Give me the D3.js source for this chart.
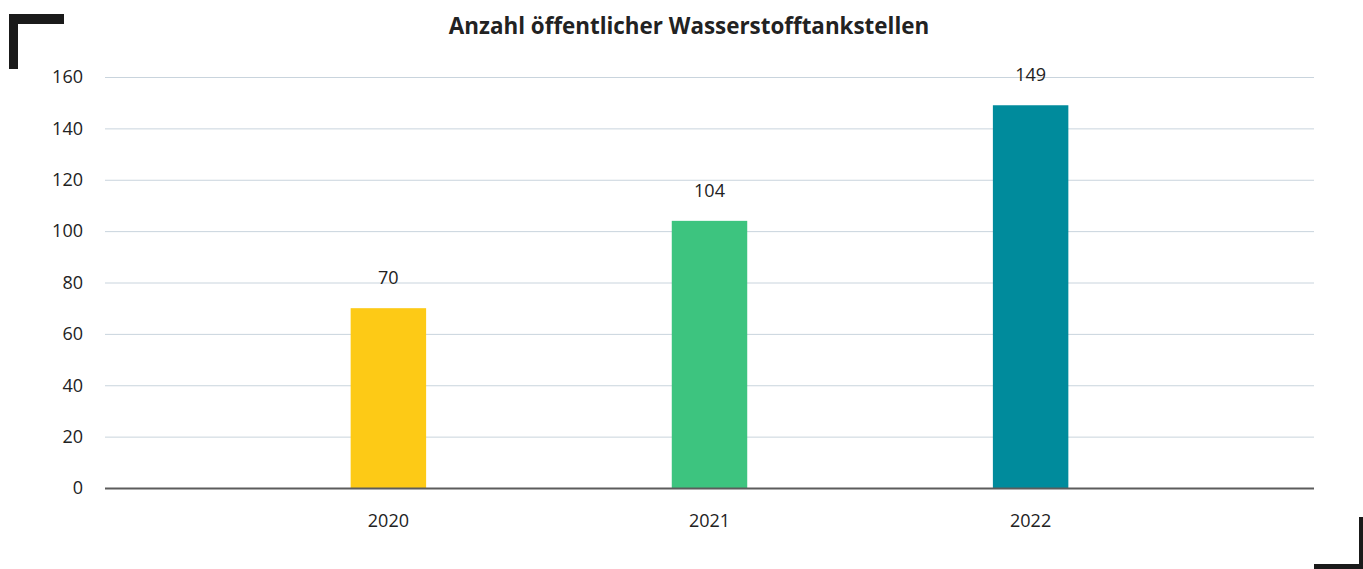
<!DOCTYPE html>
<html>
<head>
<meta charset="utf-8">
<script src="https://cdn.jsdelivr.net/npm/d3@7"></script>
<style>
  body { margin: 0; background: #fff; }
  svg { display: block; font-family: 'Open Sans', sans-serif; }
  .grid line { stroke: #c9d4dd; stroke-width: 1; }
  .grid .domain { display: none; }
  .axis text { fill: #222; font-size: 18px; }
  .axis .tick line { display: none; }
  .axis .domain { display: none; }
  .baseline { stroke: #5c5c5c; stroke-width: 2; }
  .value-label { fill: #222; font-size: 18px; text-anchor: middle; }
  .title { fill: #222; font-size: 22.4px; font-weight: 700; text-anchor: middle; }
  .corner { fill: #1a1a1a; }
</style>
</head>
<body>
<div id="chart"></div>
<script>
const years = ['2020', '2021', '2022'];
const stations = [70, 104, 149];
const barColors = ['#fdca16', '#3dc47f', '#008b9c'];
const yTicks = [0, 20, 40, 60, 80, 100, 120, 140, 160];

const W = 1363;
const H = 569;
const margin = { top: 77, left: 105, bottom: 81, right: 49 };
const width = W - margin.left - margin.right;
const height = H - margin.top - margin.bottom;

const svg = d3.select('#chart').append('svg')
    .attr('width', W)
    .attr('height', H);

// corner brackets
svg.append('rect').attr('class', 'corner').attr('x', 9).attr('y', 14).attr('width', 55).attr('height', 10);
svg.append('rect').attr('class', 'corner').attr('x', 9).attr('y', 14).attr('width', 9).attr('height', 55);
svg.append('rect').attr('class', 'corner').attr('x', 1314).attr('y', 564).attr('width', 60).attr('height', 10);
svg.append('rect').attr('class', 'corner').attr('x', 1359).attr('y', 517).attr('width', 10).attr('height', 60);

svg.append('text').attr('class', 'title')
    .attr('x', 689)
    .attr('y', 34)
    .text('Anzahl öffentlicher Wasserstofftankstellen');

const g = svg.append('g')
    .attr('transform', `translate(${margin.left},${margin.top})`);

const x = d3.scaleBand()
    .domain(years)
    .range([0, width])
    .padding(0.765);

const y = d3.scaleLinear()
    .domain([0, 160])
    .range([height, 0]);

g.append('g').attr('class', 'grid')
    .call(d3.axisLeft(y).tickValues(yTicks.slice(1)).tickSize(-width).tickFormat(''));

g.append('g').attr('class', 'axis axis--y')
    .attr('transform', 'translate(-22,0)')
    .call(d3.axisLeft(y).tickValues(yTicks).tickSize(0).tickPadding(0))
    .attr('font-family', null)
    .attr('font-size', null);

const data = years.map((yr, i) => ({ year: yr, value: stations[i], color: barColors[i] }));

g.selectAll('.bar').data(data)
  .enter().append('rect')
    .attr('class', 'bar')
    .attr('x', d => x(d.year))
    .attr('y', d => y(d.value))
    .attr('width', x.bandwidth())
    .attr('height', d => height - y(d.value))
    .attr('fill', d => d.color);

g.selectAll('.value-label').data(data)
  .enter().append('text')
    .attr('class', 'value-label')
    .attr('x', d => x(d.year) + x.bandwidth() / 2)
    .attr('y', d => y(d.value) - 24)
    .text(d => d.value);

g.append('line').attr('class', 'baseline')
    .attr('x1', 0).attr('x2', width)
    .attr('y1', height + 0.5).attr('y2', height + 0.5);

g.append('g').attr('class', 'axis axis--x')
    .attr('transform', `translate(0,${height})`)
    .call(d3.axisBottom(x).tickSize(0).tickPadding(26))
    .attr('font-family', null)
    .attr('font-size', null);
</script>
</body>
</html>
